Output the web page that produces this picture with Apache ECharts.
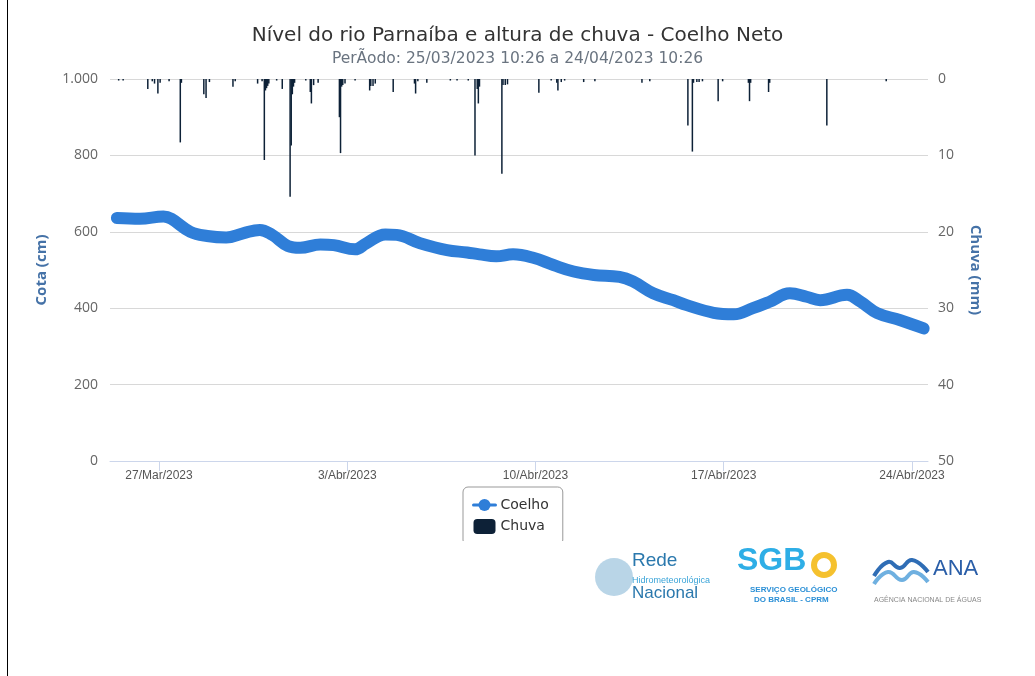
<!DOCTYPE html>
<html>
<head>
<meta charset="utf-8">
<title>Coelho Neto</title>
<script src="https://cdn.jsdelivr.net/npm/echarts@6/dist/echarts.min.js"></script>
<style>
    html, body { margin: 0; padding: 0; background: #fff; }
    #chart { position: absolute; left: 0; top: 0; width: 1035px; height: 676px; }
    #frame { position: absolute; left: 7px; top: 0; width: 1px; height: 676px; background: #000; }
</style>
</head>
<body>
<div id="chart"></div>
<div id="frame"></div>
<script>
    // nível do rio (cm)
    var levelTimes = ['2023-03-25 10:26', '2023-03-26 07:00', '2023-03-27 04:00', '2023-03-27 11:00', '2023-03-28 04:00',
        '2023-03-28 19:00', '2023-03-29 12:00', '2023-03-30 03:00', '2023-03-30 18:00', '2023-03-31 05:00',
        '2023-03-31 19:00', '2023-04-01 06:00', '2023-04-02 00:00', '2023-04-02 12:00', '2023-04-03 07:00',
        '2023-04-03 17:00', '2023-04-04 10:00', '2023-04-04 20:00', '2023-04-05 17:00', '2023-04-06 17:00',
        '2023-04-07 11:00', '2023-04-07 22:00', '2023-04-08 13:00', '2023-04-09 04:00', '2023-04-09 22:00',
        '2023-04-10 16:00', '2023-04-11 10:00', '2023-04-12 04:00', '2023-04-13 03:00', '2023-04-13 15:00',
        '2023-04-14 09:00', '2023-04-15 03:00', '2023-04-15 15:00', '2023-04-16 15:00', '2023-04-17 09:00',
        '2023-04-18 02:00', '2023-04-18 17:00', '2023-04-19 11:00', '2023-04-20 02:00', '2023-04-20 14:00',
        '2023-04-21 14:00', '2023-04-22 02:00', '2023-04-22 17:00', '2023-04-23 13:00', '2023-04-24 10:26'];
    var levelValues = [636, 634, 640, 634, 600,
        589, 585, 596, 605, 592,
        563, 558, 567, 565, 554,
        570, 593, 592, 570, 552,
        546, 541, 536, 541, 532,
        513, 496, 487, 482, 470,
        439, 421, 408, 388, 384,
        400, 417, 439, 430, 421,
        435, 417, 387, 369, 347];

    // chuva (mm)
    var rainTimes = ['2023-03-25 12:00', '2023-03-25 16:00', '2023-03-26 14:00', '2023-03-26 18:00', '2023-03-26 20:00',
        '2023-03-26 23:00', '2023-03-27 01:00', '2023-03-27 09:00', '2023-03-27 19:00', '2023-03-27 20:00',
        '2023-03-28 16:00', '2023-03-28 18:00', '2023-03-28 21:00', '2023-03-29 18:00', '2023-03-29 20:00',
        '2023-03-30 16:00', '2023-03-30 20:00', '2023-03-30 22:00', '2023-03-30 23:00', '2023-03-31 00:00',
        '2023-03-31 01:00', '2023-03-31 02:00', '2023-03-31 09:00', '2023-03-31 14:00', '2023-03-31 21:00',
        '2023-03-31 22:00', '2023-03-31 23:00', '2023-04-01 00:00', '2023-04-01 01:00', '2023-04-01 11:00',
        '2023-04-01 15:00', '2023-04-01 16:00', '2023-04-01 18:00', '2023-04-01 22:00', '2023-04-02 17:00',
        '2023-04-02 18:00', '2023-04-02 19:00', '2023-04-02 20:00', '2023-04-02 22:00', '2023-04-03 07:00',
        '2023-04-03 20:00', '2023-04-03 21:00', '2023-04-03 23:00', '2023-04-04 01:00', '2023-04-04 17:00',
        '2023-04-05 12:00', '2023-04-05 13:00', '2023-04-05 15:00', '2023-04-05 23:00', '2023-04-06 20:00',
        '2023-04-07 02:00', '2023-04-07 12:00', '2023-04-07 18:00', '2023-04-07 20:00', '2023-04-07 21:00',
        '2023-04-07 22:00', '2023-04-08 18:00', '2023-04-08 19:00', '2023-04-08 21:00', '2023-04-08 23:00',
        '2023-04-10 03:00', '2023-04-10 14:00', '2023-04-10 19:00', '2023-04-10 20:00', '2023-04-10 23:00',
        '2023-04-11 02:00', '2023-04-11 19:00', '2023-04-12 05:00', '2023-04-13 23:00', '2023-04-14 06:00',
        '2023-04-15 16:00', '2023-04-15 20:00', '2023-04-15 21:00', '2023-04-16 00:00', '2023-04-16 02:00',
        '2023-04-16 05:00', '2023-04-16 19:00', '2023-04-16 23:00', '2023-04-17 22:00', '2023-04-17 23:00',
        '2023-04-18 00:00', '2023-04-18 16:00', '2023-04-18 17:00', '2023-04-20 20:00', '2023-04-23 01:00'];
    var rainValues = [0.2, 0.2, 1.3, 0.3, 0.6,
        1.9, 0.5, 0.3, 8.3, 0.5,
        2.0, 2.5, 0.4, 1.0, 0.3,
        0.6, 0.3, 10.6, 1.5, 1.2,
        0.9, 0.6, 0.2, 1.3, 15.4,
        8.7, 2.0, 1.0, 0.5, 0.2,
        1.7, 3.2, 0.8, 0.5, 5.0,
        9.7, 1.0, 0.8, 0.6, 0.2,
        1.5, 0.9, 0.9, 0.6, 1.7,
        0.6, 1.9, 0.3, 0.5, 0.2,
        0.2, 0.2, 10.0, 1.3, 3.2,
        1.0, 12.4, 0.8, 0.8, 0.7,
        1.8, 0.2, 0.5, 1.5, 0.4,
        0.2, 0.4, 0.3, 0.5, 0.3,
        6.1, 9.5, 0.5, 0.4, 0.4,
        0.3, 2.9, 0.3, 0.5, 2.9,
        0.5, 1.7, 0.5, 6.1, 0.3];

    var xTicks = ['2023-03-27 00:00', '2023-04-03 00:00', '2023-04-10 00:00', '2023-04-17 00:00', '2023-04-24 00:00'];
    var xTickLabels = ['27/Mar/2023', '3/Abr/2023', '10/Abr/2023', '17/Abr/2023', '24/Abr/2023'];

    function toTime(s) {
        var p = s.split(/[- :]/);
        return new Date(+p[0], +p[1] - 1, +p[2], +p[3], +p[4]).getTime();
    }

    var tickTimes = xTicks.map(toTime);
    var levelData = levelTimes.map(function (t, i) { return [toTime(t), levelValues[i]]; });
    var rainData = rainTimes.map(function (t, i) { return [toTime(t), rainValues[i]]; });

    var chart = echarts.init(document.getElementById('chart'));
    var labelFont = 'Liberation Sans Narrow, Liberation Sans, sans-serif';
    var mainFont = 'DejaVu Sans, sans-serif';

    chart.setOption({
        animation: false,
        textStyle: { fontFamily: mainFont },
        title: {
            text: 'Nível do rio Parnaíba e altura de chuva - Coelho Neto',
            subtext: 'PerÃodo: 25/03/2023 10:26 a 24/04/2023 10:26',
            left: 'center',
            top: 21,
            itemGap: 5,
            textStyle: { fontSize: 20, fontWeight: 'normal', color: '#333333', fontFamily: mainFont },
            subtextStyle: { fontSize: 15.5, color: '#6a7480', fontFamily: mainFont }
        },
        legend: {
            orient: 'vertical',
            left: 463,
            top: 487,
            padding: [11, 14, 11, 9],
            itemGap: 7,
            itemWidth: 22,
            itemHeight: 15,
            borderColor: '#999999',
            borderWidth: 1,
            borderRadius: 5,
            textStyle: { fontSize: 14, color: '#333333', fontFamily: mainFont },
            lineStyle: { width: 3 },
            data: [
                { name: 'Coelho' },
                { name: 'Chuva', icon: 'roundRect' }
            ]
        },
        grid: { left: 110, right: 107, top: 79, bottom: 215 },
        xAxis: {
            type: 'value',
            min: toTime('2023-03-25 04:16'),
            max: toTime('2023-04-24 14:17'),
            axisLine: { lineStyle: { color: '#ccd6eb' } },
            axisTick: { customValues: tickTimes, length: 10, lineStyle: { color: '#ccd6eb' } },
            axisLabel: {
                customValues: tickTimes,
                color: '#555555',
                fontSize: 12,
                fontFamily: labelFont,
                margin: 9,
                formatter: function (v) {
                    var i = tickTimes.indexOf(v);
                    return i >= 0 ? xTickLabels[i] : '';
                }
            },
            splitLine: { show: false }
        },
        yAxis: [
            {
                type: 'value',
                min: 0,
                max: 1000,
                interval: 200,
                name: 'Cota (cm)',
                nameLocation: 'middle',
                nameGap: 61,
                nameTextStyle: { color: '#4572a7', fontSize: 15, fontWeight: 'bold', fontFamily: 'Open Sans, sans-serif' },
                axisLine: { show: false },
                axisTick: { show: false },
                axisLabel: {
                    color: '#666666',
                    fontSize: 14,
                    margin: 12,
                    fontFamily: 'Open Sans, sans-serif',
                    formatter: function (v) { return String(v).replace(/\B(?=(\d{3})+(?!\d))/g, '.'); }
                },
                splitLine: { lineStyle: { color: '#d8d8d8' } }
            },
            {
                type: 'value',
                min: 0,
                max: 50,
                interval: 10,
                inverse: true,
                position: 'right',
                name: 'Chuva (mm)',
                nameLocation: 'middle',
                nameGap: 40,
                nameRotate: -90,
                nameTextStyle: { color: '#4572a7', fontSize: 15, fontWeight: 'bold', fontFamily: 'Open Sans, sans-serif' },
                axisLine: { show: false },
                axisTick: { show: false },
                axisLabel: { color: '#666666', fontSize: 14, margin: 10, fontFamily: 'Open Sans, sans-serif' },
                splitLine: { show: false }
            }
        ],
        series: [
            {
                name: 'Coelho',
                type: 'line',
                yAxisIndex: 0,
                data: levelData,
                smooth: 0.4,
                symbol: 'circle',
                symbolSize: 9,
                showSymbol: false,
                color: '#2f7ed8',
                lineStyle: { width: 12, cap: 'round', join: 'round', color: '#2f7ed8' },
                z: 3
            },
            {
                name: 'Chuva',
                type: 'bar',
                yAxisIndex: 1,
                data: rainData,
                barWidth: 1.5,
                color: '#0d2137',
                itemStyle: { color: '#0d2137' },
                z: 2
            }
        ],
        graphic: [
            // corta a parte de baixo da caixa da legenda
            { type: 'rect', z: 100, shape: { x: 455, y: 541, width: 120, height: 20 }, style: { fill: '#ffffff' } },
            // logos (texto)
            { type: 'circle', z: 100, shape: { cx: 614, cy: 577, r: 19 }, style: { fill: '#7fb3d3', opacity: 0.55 } },
            { type: 'text', z: 101, left: 632, top: 551, style: { text: 'Rede', fill: '#2a78ad', fontSize: 19, fontFamily: labelFont } },
            { type: 'text', z: 101, left: 632, top: 576, style: { text: 'Hidrometeorológica', fill: '#3aa4d8', fontSize: 9, fontFamily: labelFont } },
            { type: 'text', z: 101, left: 632, top: 585, style: { text: 'Nacional', fill: '#2a78ad', fontSize: 17, fontFamily: labelFont } },
            { type: 'text', z: 101, left: 737, top: 545, style: { text: 'SGB', fill: '#2eaee6', fontSize: 32, fontWeight: 'bold', fontFamily: 'Liberation Sans, sans-serif' } },
            { type: 'circle', z: 101, shape: { cx: 824, cy: 565, r: 10 }, style: { fill: 'none', stroke: '#f5c12e', lineWidth: 6 } },
            { type: 'text', z: 101, left: 750, top: 586, style: { text: 'SERVIÇO GEOLÓGICO', fill: '#2a8fd6', fontSize: 8, fontWeight: 'bold', fontFamily: 'Liberation Sans, sans-serif' } },
            { type: 'text', z: 101, left: 754, top: 596, style: { text: 'DO BRASIL - CPRM', fill: '#2a8fd6', fontSize: 8, fontWeight: 'bold', fontFamily: 'Liberation Sans, sans-serif' } },
            { type: 'polyline', z: 101, shape: { points: [[874, 576], [888, 562], [900, 568], [912, 560], [928, 572]], smooth: 0.5 }, style: { stroke: '#2f6db5', lineWidth: 4, fill: 'none' } },
            { type: 'polyline', z: 101, shape: { points: [[874, 584], [888, 572], [902, 580], [914, 572], [928, 582]], smooth: 0.5 }, style: { stroke: '#6fb0e0', lineWidth: 4, fill: 'none' } },
            { type: 'text', z: 101, left: 933, top: 558, style: { text: 'ANA', fill: '#2a5ea8', fontSize: 22, fontFamily: 'Liberation Sans, sans-serif' } },
            { type: 'text', z: 101, left: 874, top: 597, style: { text: 'AGÊNCIA NACIONAL DE ÁGUAS', fill: '#888888', fontSize: 7, fontFamily: 'Liberation Sans, sans-serif' } }
        ]
    });
</script>
</body>
</html>
